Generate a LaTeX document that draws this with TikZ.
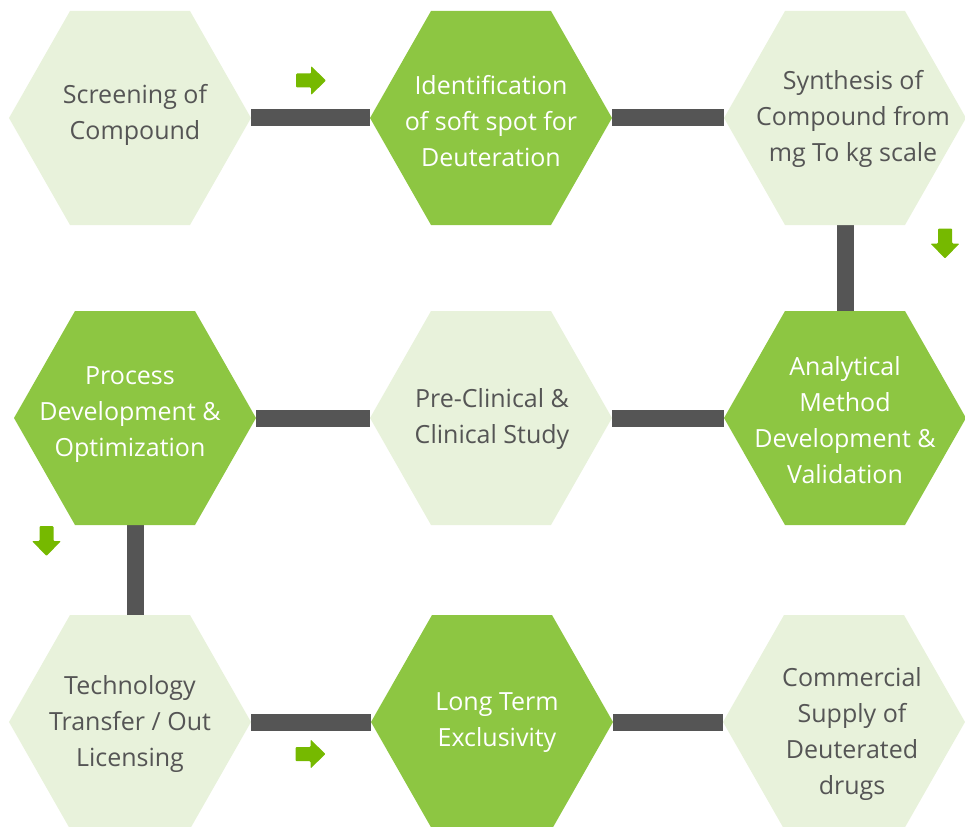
\documentclass[tikz,border=0pt]{standalone}
\usepackage{fontspec}
\setmainfont{Open Sans}
\usetikzlibrary{calc,backgrounds}
\definecolor{hexlight}{HTML}{E8F2DB}
\definecolor{hexdark}{HTML}{8DC642}
\definecolor{barcol}{HTML}{555555}
\definecolor{arrowcol}{HTML}{76B900}
\definecolor{txtgray}{HTML}{555555}
\begin{document}
\begin{tikzpicture}[x=1pt,y=-1pt,
  hexshape/.style={minimum width=242pt, minimum height=214pt, inner sep=0pt,
    path picture={\fill[#1] (path picture bounding box.west)
      -- ($(path picture bounding box.north west)+(61,0)$)
      -- ($(path picture bounding box.north east)+(-61,0)$)
      -- (path picture bounding box.east)
      -- ($(path picture bounding box.south east)+(-61,0)$)
      -- ($(path picture bounding box.south west)+(61,0)$) -- cycle;}},
  lighthex/.style={hexshape=hexlight},
  darkhex/.style={hexshape=hexdark},
  steptext/.style={align=center, inner sep=0pt, yshift=-2pt, font=\fontsize{25}{36}\selectfont},
  graytext/.style={steptext, text=txtgray},
  whitetext/.style={steptext, text=white},
  bar/.style={draw=barcol, line width=17pt},
  garrow/.pic={\fill[arrowcol, rounded corners=1pt] (-15,-7) -- (0,-7) -- (0,-14.5) -- (15,0) -- (0,14.5) -- (0,7) -- (-15,7) -- cycle;}
]
\useasboundingbox (0,0) rectangle (965,826);
% hexagon nodes
\node[lighthex] (h1) at (130,118) {};
\node[darkhex]  (h2) at (491,118) {};
\node[lighthex] (h3) at (845,118) {};
\node[darkhex]  (h4) at (135,418) {};
\node[lighthex] (h5) at (491,418) {};
\node[darkhex]  (h6) at (845,418) {};
\node[lighthex] (h7) at (130,722) {};
\node[darkhex]  (h8) at (492,722) {};
\node[lighthex] (h9) at (844,722) {};
% connectors, behind the hexagons
\begin{scope}[on background layer]
\draw[bar] (h1.east) -- (h2.west);
\draw[bar] (h2.east) -- (h3.west);
\draw[bar] (h3.south) -- (h6.north);
\draw[bar] (h4.east) -- (h5.west);
\draw[bar] (h5.east) -- (h6.west);
\draw[bar] (h4.south) -- (h4.south |- h7.north);
\draw[bar] (h7.east) -- (h8.west);
\draw[bar] (h8.east) -- (h9.west);
\end{scope}
% texts
\node[graytext]  (t1) at (135,113) {Screening of\\Compound};
\node[whitetext] (t2) at (491,119) {Identification\\of soft spot for\\Deuteration};
\node[graytext]  (t3) at (853,117) {Synthesis of\\Compound from\\mg To kg scale};
\node[whitetext] (t4) at (130,413) {Process\\Development \&\\Optimization};
\node[graytext]  (t5) at (492,417) {Pre-Clinical \&\\Clinical Study};
\node[whitetext] (t6) at (845,418) {Analytical\\Method\\Development \&\\Validation};
\node[graytext]  (t7) at (130,722) {Technology\\Transfer / Out\\Licensing};
\node[whitetext] (t8) at (497,721) {Long Term\\Exclusivity};
\node[graytext]  (t9) at (852,732) {Commercial\\Supply of\\Deuterated\\drugs};
% direction arrows
\pic at (311,80.5) {garrow};
\pic[rotate=-90] at (945,243.5) {garrow};
\pic[rotate=-90] at (46.5,541) {garrow};
\pic at (310.5,754) {garrow};
\end{tikzpicture}
\end{document}
